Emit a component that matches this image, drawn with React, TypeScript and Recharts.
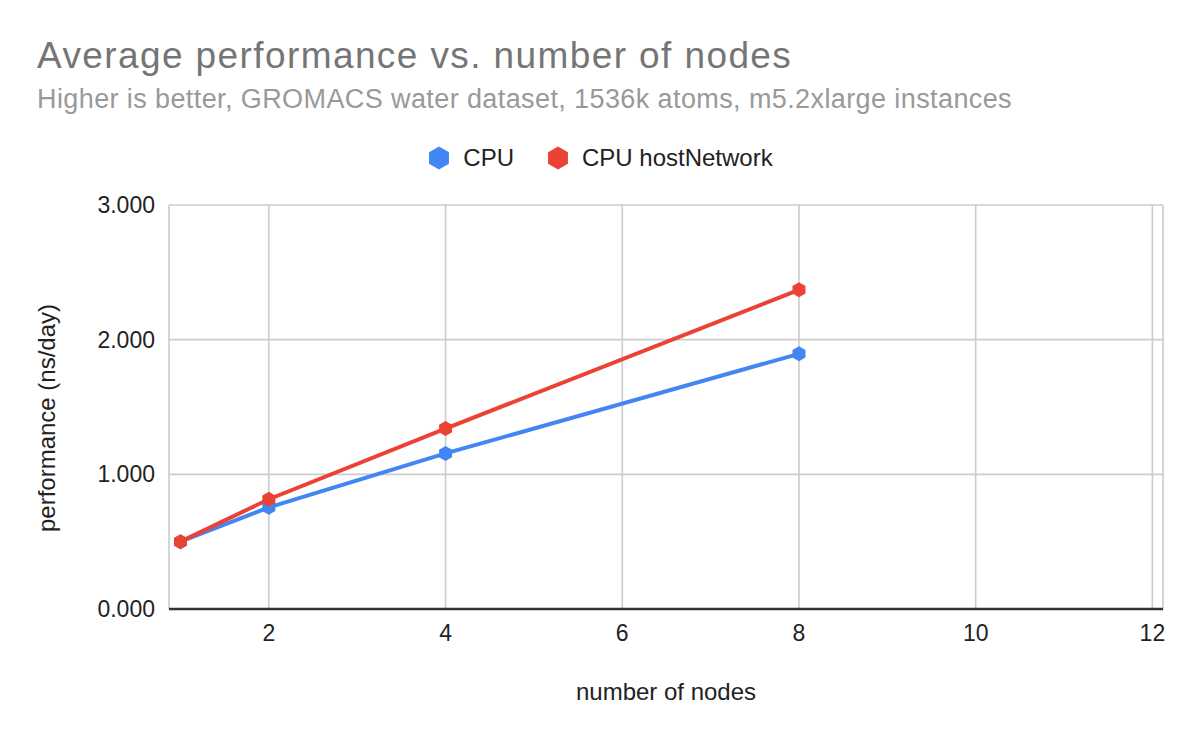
import { LineChart, Line, XAxis, YAxis, CartesianGrid, Legend, Label } from "recharts";

const nodes = [1, 2, 4, 8];
const cpu = [0.5, 0.755, 1.155, 1.895];
const cpuHostNetwork = [0.5, 0.815, 1.34, 2.37];

const xTicks = [2, 4, 6, 8, 10, 12];
const yTicks = [0, 1, 2, 3];

const seriesNames = ["CPU", "CPU hostNetwork"];
const COLORS = ["#4285f4", "#ea4335"];

const data = nodes.map((n, i) => ({ nodes: n, cpu: cpu[i], host: cpuHostNetwork[i] }));

const FONT = "'Liberation Sans', Arial, Helvetica, sans-serif";

function hexPoints(cx: number, cy: number, r: number) {
  const pts: string[] = [];
  for (let k = 0; k < 6; k++) {
    const a = (Math.PI / 3) * k - Math.PI / 2;
    pts.push(`${cx + r * Math.cos(a)},${cy + r * Math.sin(a)}`);
  }
  return pts.join(" ");
}

function HexDot(props: any) {
  const { cx, cy, stroke, index } = props;
  if (cx == null || cy == null) return null;
  return <polygon key={index} points={hexPoints(cx, cy, 7.5)} fill={stroke} />;
}

function LegendContent() {
  return (
    <div style={{ display: "flex", justifyContent: "center", alignItems: "center", gap: 32 }}>
      {seriesNames.map((name, i) => (
        <div key={name} style={{ display: "flex", alignItems: "center", gap: 12 }}>
          <svg width={24} height={26}>
            <polygon points={hexPoints(12, 13, 11.5)} fill={COLORS[i]} />
          </svg>
          <span style={{ fontSize: 24, color: "#222", fontFamily: FONT }}>{name}</span>
        </div>
      ))}
    </div>
  );
}

function YTitle(props: any) {
  const vb = props.viewBox;
  const cx = vb.x + 55;
  const cy = vb.y + vb.height / 2 + 11;
  return (
    <text
      x={cx}
      y={cy}
      transform={`rotate(-90, ${cx}, ${cy})`}
      textAnchor="middle"
      fontSize={24}
      fill="#222"
    >
      performance (ns/day)
    </text>
  );
}

export default function App() {
  return (
    <div style={{ position: "absolute", left: 0, top: 0, width: 1200, height: 742, fontFamily: FONT, background: "#fff" }}>
      <svg width={1200} height={130} style={{ position: "absolute", left: 0, top: 0, pointerEvents: "none" }}>
        <text x={37} y={67.5} fontSize={37} fill="#757575" letterSpacing={1.4}>
          Average performance vs. number of nodes
        </text>
        <text x={37} y={108} fontSize={27} fill="#999999" letterSpacing={0.4}>
          Higher is better, GROMACS water dataset, 1536k atoms, m5.2xlarge instances
        </text>
      </svg>
      <LineChart width={1200} height={742} data={data} margin={{ top: 205, right: 37, left: 0, bottom: 0 }}>
        <CartesianGrid stroke="#cccccc" strokeWidth={1.6} />
        <XAxis
          dataKey="nodes"
          type="number"
          domain={[0.87, 12.12]}
          allowDataOverflow
          ticks={xTicks}
          height={133}
          tickLine={false}
          tickSize={0}
          tickMargin={16}
          axisLine={{ stroke: "#333", strokeWidth: 2.5 }}
          tick={{ fill: "#222", fontSize: 23 }}
        >
          <Label value="number of nodes" position="insideTop" offset={74} fontSize={24} fill="#222" />
        </XAxis>
        <YAxis
          type="number"
          domain={[0, 3]}
          ticks={yTicks}
          width={169}
          axisLine={false}
          tickLine={false}
          tickSize={0}
          tickMargin={14}
          tickFormatter={(v: number) => v.toFixed(3)}
          tick={{ fill: "#222", fontSize: 23 }}
        >
          <Label content={YTitle} />
        </YAxis>
        <Legend
          verticalAlign="middle"
          align="center"
          content={LegendContent}
          wrapperStyle={{ top: 144, left: 0, width: 1200 }}
        />
        <Line
          dataKey="cpu"
          name={seriesNames[0]}
          stroke={COLORS[0]}
          strokeWidth={4}
          dot={HexDot}
          activeDot={false}
          isAnimationActive={false}
        />
        <Line
          dataKey="host"
          name={seriesNames[1]}
          stroke={COLORS[1]}
          strokeWidth={4}
          dot={HexDot}
          activeDot={false}
          isAnimationActive={false}
        />
      </LineChart>
    </div>
  );
}
